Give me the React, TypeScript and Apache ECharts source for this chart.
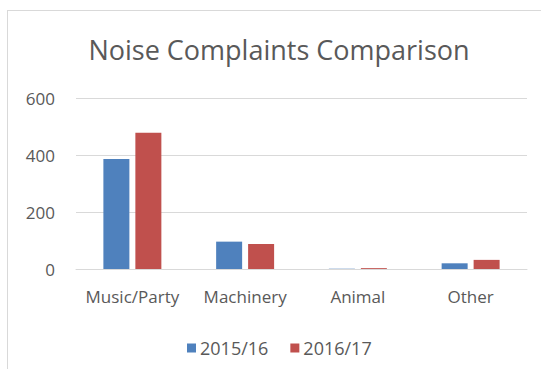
import React, { useEffect, useRef } from "react";
import * as echarts from "echarts";

const categories = ["Music/Party", "Machinery", "Animal", "Other"];
const series2015 = [386, 96, 1, 20];
const series2016 = [478, 88, 3, 32];
const seriesNames = ["2015/16", "2016/17"];
const yTicks = [0, 200, 400, 600];

export default function App() {
  const ref = useRef<HTMLDivElement>(null);
  useEffect(() => {
    if (!ref.current) return;
    const chart = echarts.init(ref.current, undefined, { renderer: "svg" });
    const font = "'Open Sans', sans-serif";
    chart.setOption({
      animation: false,
      backgroundColor: "#ffffff",
      title: {
        text: "Noise Complaints Comparison",
        left: 274,
        textAlign: "center",
        top: 31,
        textStyle: { fontFamily: font, fontSize: 27, fontWeight: "normal", color: "#595959" },
      },
      legend: {
        data: seriesNames,
        top: 334,
        left: 182,
        itemWidth: 9,
        itemHeight: 9,
        itemGap: 22,
        icon: "rect",
        textStyle: { fontFamily: font, fontSize: 18, color: "#595959", padding: [0, 0, 0, -1] },
      },
      grid: { left: 76, right: 14, top: 98, bottom: 100 },
      xAxis: {
        type: "category",
        data: categories,
        axisTick: { show: false },
        axisLine: { lineStyle: { color: "#d9d9d9" } },
        axisLabel: {
          interval: 0,
          hideOverlap: false,
          fontFamily: font,
          fontSize: 17,
          color: "#595959",
          margin: 19,
        },
      },
      yAxis: {
        type: "value",
        min: yTicks[0],
        max: yTicks[yTicks.length - 1],
        interval: 200,
        axisLine: { show: false },
        axisTick: { show: false },
        splitLine: { lineStyle: { color: "#d9d9d9" } },
        axisLabel: { fontFamily: font, fontSize: 17, color: "#595959", margin: 21 },
      },
      series: [
        {
          name: seriesNames[0],
          type: "bar",
          data: series2015,
          barWidth: 26,
          barGap: "23%",
          itemStyle: { color: "#4F81BD" },
        },
        {
          name: seriesNames[1],
          type: "bar",
          data: series2016,
          barWidth: 26,
          itemStyle: { color: "#C0504D" },
        },
      ],
      graphic: [
        {
          type: "line",
          shape: { x1: 7, y1: 10.5, x2: 541, y2: 10.5 },
          style: { stroke: "#d9d9d9", lineWidth: 1 },
        },
        {
          type: "line",
          shape: { x1: 7.5, y1: 10, x2: 7.5, y2: 369 },
          style: { stroke: "#d9d9d9", lineWidth: 1 },
        },
      ],
    });
    return () => chart.dispose();
  }, []);
  return (
    <div
      ref={ref}
      style={{ position: "absolute", left: 0, top: 0, width: 541, height: 369 }}
    />
  );
}
